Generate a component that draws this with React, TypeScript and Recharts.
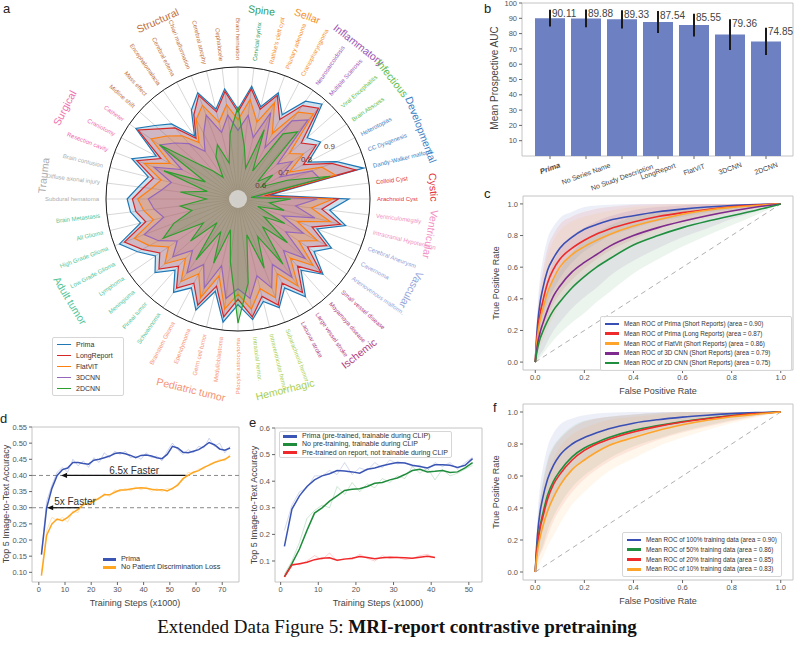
import React from 'react';
import {
  RadarChart,
  Radar,
  PolarGrid,
  PolarAngleAxis,
  PolarRadiusAxis,
  BarChart,
  Bar,
  ErrorBar,
  LabelList,
  XAxis,
  YAxis,
  ComposedChart,
  LineChart,
  Line,
  Area,
  CartesianGrid,
  ReferenceLine,
  ReferenceDot,
} from 'recharts';

const FONT = '"Liberation Sans", Arial, sans-serif';
const TICK = { fontSize: 7.5, fill: '#555', fontFamily: FONT };

// ---------- panel a: per-category AUC radar ----------
const radarCategories = [
  'Brain herniation', 'Cervical syrinx', "Rathke's cleft cyst", 'Pituitary adenoma', 'Craniopharyngioma',
  'Neurosarcoidosis', 'Multiple Sclerosis', 'Viral Encephalitis', 'Brain Abscess', 'Heterotopias',
  'CC Dysgenesis', 'Dandy-Walker malform.', 'Colloid Cyst', 'Arachnoid Cyst', 'Ventriculomegaly',
  'Intracranial Hypotension', 'Cerebral Aneurysm', 'Cavernoma', 'Arteriovenous malform.', 'Small vessel disease',
  'Moyamoya disease', 'Large vessel stroke', 'Lacunar stroke', 'Subarachnoid hemor.', 'Intraventricular hemor.',
  'Intraaxial hemor.', 'Pilocytic astrocytoma', 'Medulloblastoma', 'Germ cell tumor', 'Ependymoma',
  'Brainstem Glioma', 'Schwannoma', 'Pineal tumor', 'Meningioma', 'Lymphoma',
  'Low Grade Glioma', 'High Grade Glioma', 'All Glioma', 'Brain Metastasis', 'Subdural hematoma',
  'Diffuse axonal injury', 'Brain contusion', 'Resection cavity', 'Craniotomy', 'Catheter',
  'Midline shift', 'Mass effect', 'Encephalomalacia', 'Cerebral edema', 'Chiari malformation',
  'Cerebral atrophy', 'Cephalocele',
];

// first/last index of each group (Structural wraps past the top)
const radarGroups = [
  { name: 'Structural', color: '#c0703c', first: 45, last: 52 },
  { name: 'Spine', color: '#2e9b5f', first: 1, last: 1 },
  { name: 'Sellar', color: '#f5902a', first: 2, last: 4 },
  { name: 'Inflammatory', color: '#9a56b4', first: 5, last: 6 },
  { name: 'Infectious', color: '#5ebd48', first: 7, last: 8 },
  { name: 'Developmental', color: '#3d7ec2', first: 9, last: 11 },
  { name: 'Cystic', color: '#e4343c', first: 12, last: 13 },
  { name: 'Ventricular', color: '#f291c4', first: 14, last: 15 },
  { name: 'Vascular', color: '#94a3d9', first: 16, last: 18 },
  { name: 'Ischemic', color: '#b23a7d', first: 19, last: 22 },
  { name: 'Hemorrhagic', color: '#a8cf52', first: 23, last: 25 },
  { name: 'Pediatric tumor', color: '#f59475', first: 26, last: 30 },
  { name: 'Adult tumor', color: '#52c598', first: 31, last: 38 },
  { name: 'Trauma', color: '#adadad', first: 39, last: 41 },
  { name: 'Surgical', color: '#f06eab', first: 42, last: 44 },
];

const radarTicks = [0.6, 0.7, 0.8, 0.9];

const primaAuc = [
  0.84, 0.93, 0.86, 0.93, 0.86, 0.95, 0.98, 0.85, 0.88, 0.80,
  0.90, 0.99, 0.62, 0.92, 0.85, 0.92, 0.82, 0.90, 0.85, 0.93,
  0.86, 0.95, 0.88, 0.94, 0.90, 0.96, 0.90, 0.97, 0.86, 0.95,
  0.88, 0.93, 0.86, 0.92, 0.88, 0.93, 0.98, 0.88, 0.91, 0.92,
  0.88, 0.85, 0.93, 0.85, 0.97, 0.92, 0.88, 0.79, 0.88, 0.93,
  0.85, 0.92,
];
const longReportAuc = [
  0.83, 0.92, 0.85, 0.92, 0.84, 0.93, 0.96, 0.82, 0.86, 0.78,
  0.88, 0.96, 0.60, 0.88, 0.82, 0.90, 0.80, 0.88, 0.82, 0.92,
  0.84, 0.93, 0.86, 0.93, 0.88, 0.95, 0.88, 0.95, 0.84, 0.93,
  0.86, 0.91, 0.84, 0.90, 0.86, 0.91, 0.96, 0.86, 0.89, 0.90,
  0.86, 0.83, 0.91, 0.83, 0.96, 0.90, 0.86, 0.78, 0.86, 0.92,
  0.84, 0.91,
];
const flatVitAuc = [
  0.80, 0.88, 0.80, 0.89, 0.78, 0.90, 0.93, 0.76, 0.80, 0.72,
  0.84, 0.88, 0.58, 0.86, 0.78, 0.86, 0.74, 0.84, 0.78, 0.88,
  0.80, 0.90, 0.82, 0.90, 0.85, 0.92, 0.86, 0.92, 0.80, 0.90,
  0.82, 0.88, 0.80, 0.87, 0.82, 0.88, 0.92, 0.83, 0.86, 0.88,
  0.83, 0.80, 0.88, 0.79, 0.90, 0.86, 0.82, 0.76, 0.84, 0.88,
  0.80, 0.86,
];
const cnn3dAuc = [
  0.76, 0.82, 0.74, 0.85, 0.72, 0.86, 0.90, 0.70, 0.75, 0.68,
  0.80, 0.82, 0.57, 0.80, 0.72, 0.80, 0.68, 0.78, 0.72, 0.84,
  0.76, 0.86, 0.78, 0.86, 0.80, 0.88, 0.84, 0.88, 0.76, 0.86,
  0.78, 0.84, 0.76, 0.83, 0.78, 0.84, 0.88, 0.79, 0.82, 0.84,
  0.79, 0.76, 0.84, 0.74, 0.86, 0.82, 0.78, 0.72, 0.78, 0.84,
  0.76, 0.82,
];
const cnn2dAuc = [
  0.85, 0.70, 0.62, 0.78, 0.62, 0.80, 0.84, 0.60, 0.66, 0.60,
  0.70, 0.86, 0.55, 0.70, 0.62, 0.68, 0.58, 0.70, 0.62, 0.75,
  0.64, 0.80, 0.66, 0.78, 0.64, 0.82, 0.97, 0.74, 0.62, 0.76,
  0.64, 0.78, 0.62, 0.74, 0.66, 0.82, 0.76, 0.68, 0.72, 0.62,
  0.72, 0.62, 0.80, 0.64, 0.86, 0.70, 0.64, 0.60, 0.68, 0.72,
  0.64, 0.75,
];

const radarSeries = [
  { key: 'prima', name: 'Prima', color: '#1f77b4', values: primaAuc },
  { key: 'longReport', name: 'LongReport', color: '#d62728', values: longReportAuc },
  { key: 'flatVit', name: 'FlatViT', color: '#ff7f0e', values: flatVitAuc },
  { key: 'cnn3d', name: '3DCNN', color: '#9467bd', values: cnn3dAuc },
  { key: 'cnn2d', name: '2DCNN', color: '#2ca02c', values: cnn2dAuc },
];

// ---------- panel b: mean prospective AUC ----------
const aucModels = ['Prima', 'No Series Name', 'No Study Description', 'LongReport', 'FlatViT', '3DCNN', '2DCNN'];
const aucValues = [90.11, 89.88, 89.33, 87.54, 85.55, 79.36, 74.85];
const aucErrors = [5.5, 5.8, 6.0, 7.2, 7.5, 10.0, 8.9];

// ---------- panels c, f: mean ROC curves ----------
const rocFpr = [0, 0.005, 0.01, 0.02, 0.03, 0.05, 0.075, 0.1, 0.15, 0.2, 0.25, 0.3, 0.4, 0.5, 0.6, 0.7, 0.8, 0.9, 1.0];

const rocPrimaShort = [0, 0.15, 0.25, 0.38, 0.46, 0.58, 0.66, 0.72, 0.79, 0.84, 0.87, 0.895, 0.925, 0.95, 0.967, 0.98, 0.99, 0.996, 1];
const rocPrimaLong = [0, 0.12, 0.2, 0.31, 0.38, 0.5, 0.59, 0.65, 0.72, 0.77, 0.81, 0.84, 0.885, 0.92, 0.945, 0.965, 0.982, 0.993, 1];
const rocFlatVit = [0, 0.1, 0.17, 0.27, 0.33, 0.44, 0.53, 0.6, 0.68, 0.73, 0.77, 0.805, 0.86, 0.9, 0.935, 0.96, 0.978, 0.99, 1];
const roc3dCnn = [0, 0.07, 0.12, 0.19, 0.24, 0.33, 0.42, 0.48, 0.57, 0.63, 0.68, 0.73, 0.8, 0.85, 0.89, 0.925, 0.955, 0.98, 1];
const roc2dCnn = [0, 0.05, 0.09, 0.15, 0.19, 0.26, 0.33, 0.38, 0.47, 0.54, 0.6, 0.65, 0.74, 0.8, 0.85, 0.89, 0.925, 0.96, 1];

const sdPrimaShort = [0, 0.08, 0.12, 0.16, 0.18, 0.2, 0.2, 0.19, 0.16, 0.14, 0.12, 0.1, 0.08, 0.06, 0.05, 0.035, 0.025, 0.012, 0];
const sdPrimaLong = [0, 0.08, 0.12, 0.17, 0.19, 0.22, 0.22, 0.22, 0.2, 0.18, 0.16, 0.14, 0.11, 0.08, 0.06, 0.045, 0.03, 0.015, 0];
const sdFlatVit = [0, 0.08, 0.12, 0.17, 0.2, 0.23, 0.24, 0.23, 0.21, 0.19, 0.17, 0.15, 0.12, 0.09, 0.07, 0.05, 0.035, 0.018, 0];
const sd3dCnn = [0, 0.06, 0.1, 0.14, 0.17, 0.2, 0.22, 0.23, 0.23, 0.22, 0.21, 0.19, 0.16, 0.13, 0.1, 0.08, 0.05, 0.03, 0];
const sd2dCnn = [0, 0.05, 0.08, 0.12, 0.14, 0.17, 0.19, 0.2, 0.22, 0.23, 0.22, 0.21, 0.18, 0.15, 0.12, 0.09, 0.06, 0.03, 0];

const roc100 = [0, 0.15, 0.25, 0.38, 0.46, 0.58, 0.67, 0.73, 0.8, 0.84, 0.87, 0.895, 0.93, 0.952, 0.968, 0.98, 0.99, 0.996, 1];
const roc50 = [0, 0.12, 0.19, 0.29, 0.36, 0.48, 0.57, 0.63, 0.72, 0.775, 0.81, 0.84, 0.885, 0.915, 0.94, 0.96, 0.978, 0.991, 1];
const roc20 = [0, 0.11, 0.18, 0.28, 0.34, 0.455, 0.55, 0.61, 0.7, 0.76, 0.8, 0.83, 0.875, 0.91, 0.937, 0.958, 0.977, 0.99, 1];
const roc10 = [0, 0.08, 0.14, 0.22, 0.28, 0.38, 0.47, 0.54, 0.64, 0.7, 0.75, 0.79, 0.84, 0.885, 0.92, 0.948, 0.97, 0.986, 1];

const sd100 = [0, 0.08, 0.12, 0.16, 0.18, 0.2, 0.2, 0.19, 0.16, 0.14, 0.12, 0.1, 0.08, 0.06, 0.05, 0.035, 0.025, 0.012, 0];
const sd50 = [0, 0.08, 0.12, 0.17, 0.2, 0.22, 0.22, 0.21, 0.19, 0.17, 0.15, 0.13, 0.1, 0.08, 0.06, 0.045, 0.03, 0.015, 0];
const sd20 = [0, 0.08, 0.12, 0.17, 0.2, 0.23, 0.23, 0.22, 0.2, 0.18, 0.16, 0.14, 0.11, 0.085, 0.065, 0.05, 0.035, 0.017, 0];
const sd10 = [0, 0.07, 0.11, 0.16, 0.19, 0.22, 0.24, 0.24, 0.22, 0.2, 0.18, 0.16, 0.13, 0.1, 0.08, 0.06, 0.04, 0.02, 0];

const rocShortSeries = [
  { key: 'primaShort', name: 'Mean ROC of Prima (Short Reports) (area = 0.90)', color: '#3a4fb5', mean: rocPrimaShort, sd: sdPrimaShort },
  { key: 'primaLong', name: 'Mean ROC of Prima (Long Reports) (area = 0.87)', color: '#ee2a2a', mean: rocPrimaLong, sd: sdPrimaLong },
  { key: 'flatVit', name: 'Mean ROC of FlatVit (Short Reports) (area = 0.86)', color: '#ffa42b', mean: rocFlatVit, sd: sdFlatVit },
  { key: 'cnn3d', name: 'Mean ROC of 3D CNN (Short Reports) (area = 0.79)', color: '#7e2a8e', mean: roc3dCnn, sd: sd3dCnn },
  { key: 'cnn2d', name: 'Mean ROC of 2D CNN (Short Reports) (area = 0.75)', color: '#1f8f3f', mean: roc2dCnn, sd: sd2dCnn },
];
const rocDataSeries = [
  { key: 'p100', name: 'Mean ROC of 100% training data (area = 0.90)', color: '#3a4fb5', mean: roc100, sd: sd100 },
  { key: 'p50', name: 'Mean ROC of 50% training data (area = 0.86)', color: '#1f8f3f', mean: roc50, sd: sd50 },
  { key: 'p20', name: 'Mean ROC of 20% training data (area = 0.85)', color: '#ee2a2a', mean: roc20, sd: sd20 },
  { key: 'p10', name: 'Mean ROC of 10% training data (area = 0.83)', color: '#ffa42b', mean: roc10, sd: sd10 },
];

// ---------- panel d: patient discrimination loss ----------
const dSteps = [1, 3, 5, 7, 9, 11, 13, 15, 17, 19, 21, 23, 25, 27, 29, 31, 33, 35, 37, 39, 41, 43, 45, 47, 49, 51, 53, 55, 57, 59, 61, 63, 65, 67, 69, 71, 73];
const dPrima = [0.155, 0.30, 0.36, 0.40, 0.418, 0.423, 0.44, 0.44, 0.437, 0.435, 0.447, 0.45, 0.455, 0.46, 0.468, 0.47, 0.467, 0.462, 0.455, 0.462, 0.463, 0.46, 0.455, 0.452, 0.465, 0.49, 0.485, 0.472, 0.47, 0.475, 0.48, 0.49, 0.502, 0.495, 0.482, 0.478, 0.485];
const dPrimaRaw = [0.16, 0.32, 0.37, 0.41, 0.425, 0.41, 0.45, 0.43, 0.445, 0.425, 0.455, 0.44, 0.47, 0.455, 0.475, 0.465, 0.475, 0.455, 0.46, 0.45, 0.47, 0.455, 0.46, 0.445, 0.475, 0.5, 0.48, 0.465, 0.48, 0.47, 0.49, 0.485, 0.515, 0.49, 0.5, 0.47, 0.49];
const dNoDisc = [0.09, 0.215, 0.25, 0.265, 0.26, 0.27, 0.285, 0.295, 0.31, 0.312, 0.32, 0.33, 0.34, 0.34, 0.348, 0.355, 0.355, 0.358, 0.36, 0.362, 0.36, 0.357, 0.355, 0.356, 0.352, 0.36, 0.37, 0.39, 0.40, 0.41, 0.415, 0.425, 0.432, 0.44, 0.445, 0.45, 0.46];
const dNoDiscRaw = [0.1, 0.23, 0.27, 0.26, 0.27, 0.255, 0.29, 0.285, 0.32, 0.305, 0.33, 0.325, 0.345, 0.335, 0.355, 0.35, 0.36, 0.352, 0.365, 0.355, 0.365, 0.35, 0.36, 0.35, 0.36, 0.355, 0.375, 0.385, 0.41, 0.405, 0.42, 0.42, 0.435, 0.44, 0.45, 0.445, 0.465];

// ---------- panel e: pre-training ablation ----------
const eSteps = [1, 3, 5, 7, 9, 11, 13, 15, 17, 19, 21, 23, 25, 27, 29, 31, 33, 35, 37, 39, 41, 43, 45, 47, 49, 51];
const ePrima = [0.155, 0.295, 0.345, 0.38, 0.405, 0.42, 0.428, 0.44, 0.438, 0.435, 0.43, 0.445, 0.45, 0.458, 0.465, 0.47, 0.468, 0.46, 0.455, 0.45, 0.462, 0.462, 0.46, 0.452, 0.46, 0.485];
const ePrimaRaw = [0.215, 0.31, 0.36, 0.375, 0.42, 0.42, 0.44, 0.425, 0.47, 0.425, 0.45, 0.44, 0.47, 0.45, 0.48, 0.465, 0.47, 0.455, 0.46, 0.44, 0.47, 0.455, 0.47, 0.445, 0.47, 0.49];
const eScratch = [0.04, 0.09, 0.145, 0.215, 0.28, 0.3, 0.325, 0.345, 0.365, 0.37, 0.372, 0.38, 0.392, 0.395, 0.405, 0.412, 0.425, 0.44, 0.445, 0.435, 0.437, 0.44, 0.433, 0.435, 0.45, 0.47];
const eScratchRaw = [0.05, 0.1, 0.17, 0.26, 0.29, 0.31, 0.3, 0.38, 0.35, 0.395, 0.36, 0.39, 0.375, 0.41, 0.395, 0.42, 0.41, 0.455, 0.43, 0.45, 0.405, 0.445, 0.42, 0.43, 0.445, 0.46];
const eFrozen = [0.04, 0.085, 0.09, 0.095, 0.105, 0.11, 0.112, 0.103, 0.107, 0.11, 0.117, 0.113, 0.108, 0.112, 0.114, 0.113, 0.112, 0.11, 0.114, 0.118, 0.113, null, null, null, null, null];
const eFrozenRaw = [0.045, 0.09, 0.085, 0.1, 0.12, 0.105, 0.13, 0.1, 0.11, 0.105, 0.125, 0.11, 0.1, 0.12, 0.11, 0.115, 0.105, 0.11, 0.12, 0.125, 0.112, null, null, null, null, null];

// ---------- shared bits ----------
const frame = () => (
  <CartesianGrid
    stroke="#c4c4c4"
    horizontalCoordinatesGenerator={({ offset }: any) => [offset.top, offset.top + offset.height]}
    verticalCoordinatesGenerator={({ offset }: any) => [offset.left, offset.left + offset.width]}
  />
);

const LegendBox = ({ items, style, fontSize, lineW, gap, lineH = 2.5, border = true }: any) => (
  <div
    style={{
      position: 'absolute',
      background: 'rgba(255,255,255,0.85)',
      border: border ? '1px solid #d6d6d6' : 'none',
      borderRadius: 2,
      padding: '2px 4px',
      fontFamily: FONT,
      fontSize,
      color: '#333',
      lineHeight: `${gap}px`,
      whiteSpace: 'nowrap',
      ...style,
    }}
  >
    {items.map((it: any) => (
      <div key={it.name} style={{ display: 'flex', alignItems: 'center', height: gap }}>
        <span style={{ display: 'inline-block', width: lineW, height: lineH, background: it.color, marginRight: 5 }} />
        <span>{it.name}</span>
      </div>
    ))}
  </div>
);

// ---------- panel a ----------
const RADAR_CX = 238;
const RADAR_CY = 199;
const RADAR_R = 132;
const RADAR_MIN = 0.5;
const LABEL_R = 139;
const GROUP_R = 196;
const nCat = radarCategories.length;

function catColor(i: number) {
  const g = radarGroups.find((g) => (i >= g.first && i <= g.last) || (i + nCat >= g.first && i + nCat <= g.last));
  return g ? g.color : '#888';
}

const radarData = radarCategories.map((cat, i) => {
  const row: any = { cat };
  radarSeries.forEach((s) => { row[s.key] = s.values[i]; });
  return row;
});

const RadarTick = (props: any) => {
  const name = props.payload?.value;
  const i = radarCategories.indexOf(name);
  const theta = (i * 360) / nCat;
  const rad = (theta * Math.PI) / 180;
  const x = RADAR_CX + LABEL_R * Math.sin(rad);
  const y = RADAR_CY - LABEL_R * Math.cos(rad);
  const right = theta > 0 && theta < 180;
  const rot = right ? theta - 90 : theta + 90;
  return (
    <text
      x={x}
      y={y}
      transform={`rotate(${rot} ${x} ${y})`}
      textAnchor={right ? 'start' : 'end'}
      dominantBaseline="central"
      fontSize={6}
      fontFamily={FONT}
      fill={catColor(i)}
    >
      {name}
    </text>
  );
};

function RadarPanel() {
  const tickAngle = (30 * Math.PI) / 180;
  return (
    <div style={{ position: 'absolute', left: 0, top: 0, width: 476, height: 410 }}>
      <RadarChart
        width={476}
        height={410}
        data={radarData}
        cx={RADAR_CX}
        cy={RADAR_CY}
        outerRadius={RADAR_R}
        startAngle={90}
        endAngle={-270}
        margin={{ top: 0, right: 0, bottom: 0, left: 0 }}
      >
        <PolarGrid gridType="circle" stroke="#cdcdcd" strokeWidth={0.8} />
        <PolarAngleAxis dataKey="cat" tick={(p: any) => <RadarTick {...p} />} tickLine={false} axisLine={false} />
        <PolarRadiusAxis angle={30} domain={[RADAR_MIN, 1]} tickCount={6} axisLine={false} tick={false} />
        {radarSeries.map((s) => (
          <Radar
            key={s.key}
            dataKey={s.key}
            name={s.name}
            stroke={s.color}
            fill={s.color}
            fillOpacity={0.22}
            strokeWidth={1.2}
            dot={false}
            isAnimationActive={false}
          />
        ))}
        <PolarGrid gridType="circle" radialLines={false} polarRadius={[RADAR_R]} stroke="#222" strokeWidth={1} />
      </RadarChart>
      <svg width={476} height={410} style={{ position: 'absolute', left: 0, top: 0, pointerEvents: 'none' }}>
        <circle cx={RADAR_CX} cy={RADAR_CY} r={9} fill="#e4e4e4" fillOpacity={0.75} />
        {radarTicks.map((v) => {
          const r = ((v - RADAR_MIN) / (1 - RADAR_MIN)) * RADAR_R;
          return (
            <text
              key={v}
              x={RADAR_CX + r * Math.cos(tickAngle)}
              y={RADAR_CY - r * Math.sin(tickAngle)}
              fontSize={8}
              fontFamily={FONT}
              fill="#6a3434"
              textAnchor="middle"
              dominantBaseline="central"
            >
              {v.toFixed(1)}
            </text>
          );
        })}
        {radarGroups.map((g) => {
          const mid = (g.first + g.last) / 2;
          const theta = (mid * 360) / nCat;
          const rad = (theta * Math.PI) / 180;
          const x = RADAR_CX + GROUP_R * Math.sin(rad);
          const y = Math.max(10, RADAR_CY - GROUP_R * Math.cos(rad));
          const rot = theta <= 125 ? theta : theta < 270 ? theta - 180 : theta - 360;
          return (
            <text
              key={g.name}
              x={x}
              y={y}
              transform={`rotate(${rot} ${x} ${y})`}
              textAnchor="middle"
              dominantBaseline="central"
              fontSize={10.5}
              fontFamily={FONT}
              fill={g.color}
            >
              {g.name}
            </text>
          );
        })}
      </svg>
      <LegendBox
        items={radarSeries}
        fontSize={7}
        lineW={14}
        lineH={1.5}
        gap={11}
        style={{ left: 52, top: 337, width: 62, padding: '1px 4px' }}
      />
    </div>
  );
}

// ---------- panel b ----------
const aucData = aucModels.map((model, i) => ({ model, auc: aucValues[i], err: aucErrors[i] }));

const AucTick = (p: any) => {
  const { x, y, payload } = p;
  const label = payload.value;
  const fs = 7;
  const w = label.length * fs * 0.5;
  const a = (20 * Math.PI) / 180;
  const cy = y + 1 + (w * Math.sin(a) + fs * Math.cos(a)) / 2;
  const isPrima = label === 'Prima';
  return (
    <text
      x={x}
      y={cy}
      transform={`rotate(-20 ${x} ${cy})`}
      textAnchor="middle"
      dominantBaseline="central"
      fontSize={isPrima ? 7.5 : fs}
      fontWeight={isPrima ? 'bold' : 'normal'}
      fontStyle={isPrima ? 'italic' : 'normal'}
      fontFamily={FONT}
      fill="#444"
    >
      {label}
    </text>
  );
};

const AucLabel = (p: any) => {
  const { x, y, width, height, value } = p;
  const i = aucValues.indexOf(value);
  const err = aucErrors[i] ?? 0;
  const top = y - (err * height) / value;
  return (
    <text x={x + width / 2 + 2} y={top + 7.5} fontSize={10} fontFamily={FONT} fill="#444">
      {Number(value).toFixed(2)}
    </text>
  );
};

function AucPanel() {
  return (
    <div style={{ position: 'absolute', left: 492, top: -2, width: 302, height: 198 }}>
      <BarChart width={302} height={198} data={aucData} margin={{ top: 5, right: 1, bottom: 0, left: 0 }} barCategoryGap={3}>
        {frame()}
        <XAxis
          dataKey="model"
          interval={0}
          height={40}
          tickSize={3}
          axisLine={false}
          padding={{ left: 10, right: 9 }}
          tick={(p: any) => <AucTick {...p} />}
        />
        <YAxis
          domain={[0, 100]}
          ticks={[10, 20, 30, 40, 50, 60, 70, 80, 90, 100]}
          width={30}
          tickSize={3}
          axisLine={false}
          tick={TICK}
        />
        <Bar dataKey="auc" fill="#6d80c2" barSize={30} isAnimationActive={false}>
          <ErrorBar dataKey="err" width={0} strokeWidth={2} stroke="#1a1a1a" />
          <LabelList dataKey="auc" content={(p: any) => <AucLabel {...p} />} />
        </Bar>
      </BarChart>
    </div>
  );
}

// ---------- panels c, f ----------
function RocPanel({ left, top, height, series, legendStyle }: any) {
  const data = rocFpr.map((fpr, i) => {
    const row: any = { fpr };
    series.forEach((s: any) => {
      row[s.key] = s.mean[i];
      row[s.key + 'Band'] = [Math.max(0, s.mean[i] - s.sd[i]), Math.min(1, s.mean[i] + s.sd[i])];
    });
    return row;
  });
  return (
    <div style={{ position: 'absolute', left, top, width: 297, height }}>
      <ComposedChart width={297} height={height} data={data} margin={{ top: 4, right: 1, bottom: 0, left: 0 }}>
        {frame()}
        <XAxis
          dataKey="fpr"
          type="number"
          domain={[-0.05, 1.05]}
          ticks={[0, 0.2, 0.4, 0.6, 0.8, 1]}
          tickFormatter={(v: number) => v.toFixed(1)}
          height={16}
          tickSize={3}
          axisLine={false}
          allowDataOverflow
          tick={TICK}
        />
        <YAxis
          type="number"
          domain={[-0.05, 1.05]}
          ticks={[0, 0.2, 0.4, 0.6, 0.8, 1]}
          tickFormatter={(v: number) => v.toFixed(1)}
          width={26}
          tickSize={3}
          axisLine={false}
          allowDataOverflow
          tick={TICK}
        />
        <ReferenceLine segment={[{ x: 0, y: 0 }, { x: 1, y: 1 }]} stroke="#b0b0b0" strokeDasharray="5 4" />
        {series.map((s: any) => (
          <Area
            key={s.key + 'Band'}
            dataKey={s.key + 'Band'}
            type="monotone"
            stroke="none"
            fill={s.color}
            fillOpacity={0.09}
            isAnimationActive={false}
          />
        ))}
        {series.map((s: any) => (
          <Line
            key={s.key}
            dataKey={s.key}
            type="monotone"
            stroke={s.color}
            strokeWidth={1.6}
            dot={false}
            isAnimationActive={false}
          />
        ))}
      </ComposedChart>
      <LegendBox items={series} fontSize={6.3} lineW={14} lineH={2.5} gap={9.8} style={legendStyle} />
    </div>
  );
}

// ---------- panels d, e ----------
const ArrowShape = (p: any) => {
  const { x1, y1, x2, y2 } = p;
  const dir = x2 < x1 ? 1 : -1;
  return (
    <g>
      <line x1={x1} y1={y1} x2={x2 + dir * 5} y2={y2} stroke="#111" strokeWidth={1.2} />
      <path d={`M${x2},${y2} L${x2 + dir * 6},${y2 - 2.6} L${x2 + dir * 6},${y2 + 2.6} Z`} fill="#111" />
    </g>
  );
};

const dData = dSteps.map((step, i) => ({
  step,
  prima: dPrima[i],
  primaRaw: dPrimaRaw[i],
  noDisc: dNoDisc[i],
  noDiscRaw: dNoDiscRaw[i],
}));

function PatientLossPanel() {
  return (
    <div style={{ position: 'absolute', left: 2, top: 422, width: 239, height: 176 }}>
      <LineChart width={239} height={176} data={dData} margin={{ top: 5, right: 2, bottom: 0, left: 0 }}>
        {frame()}
        <XAxis
          dataKey="step"
          type="number"
          domain={[-2.6, 76.4]}
          ticks={[0, 10, 20, 30, 40, 50, 60, 70]}
          height={16}
          tickSize={3}
          axisLine={false}
          allowDataOverflow
          tick={TICK}
        />
        <YAxis
          type="number"
          domain={[0.07, 0.55]}
          ticks={[0.1, 0.15, 0.2, 0.25, 0.3, 0.35, 0.4, 0.45, 0.5, 0.55]}
          tickFormatter={(v: number) => v.toFixed(2)}
          width={30}
          tickSize={3}
          axisLine={false}
          allowDataOverflow
          tick={TICK}
        />
        <ReferenceLine y={0.4} stroke="#8a8a8a" strokeDasharray="4 3" />
        <ReferenceLine y={0.3} stroke="#8a8a8a" strokeDasharray="4 3" />
        <Line dataKey="primaRaw" stroke="#3a55b4" strokeOpacity={0.25} strokeWidth={1} dot={false} isAnimationActive={false} />
        <Line dataKey="noDiscRaw" stroke="#ffa51f" strokeOpacity={0.3} strokeWidth={1} dot={false} isAnimationActive={false} />
        <Line dataKey="prima" stroke="#3a55b4" strokeWidth={1.5} dot={false} isAnimationActive={false} />
        <Line dataKey="noDisc" stroke="#ffa51f" strokeWidth={1.5} dot={false} isAnimationActive={false} />
        <ReferenceLine segment={[{ x: 56, y: 0.4 }, { x: 8.5, y: 0.4 }]} shape={(p: any) => <ArrowShape {...p} />} />
        <ReferenceLine segment={[{ x: 15.5, y: 0.3 }, { x: 3.2, y: 0.3 }]} shape={(p: any) => <ArrowShape {...p} />} />
        <ReferenceDot x={36.4} y={0.415} r={0} fill="none" stroke="none" label={{ value: '6.5x Faster', position: 'center', fontSize: 10, fill: '#333', fontFamily: FONT }} />
        <ReferenceDot x={13.8} y={0.318} r={0} fill="none" stroke="none" label={{ value: '5x Faster', position: 'center', fontSize: 10, fill: '#333', fontFamily: FONT }} />
      </LineChart>
      <LegendBox
        items={[
          { name: 'Prima', color: '#3a55b4' },
          { name: 'No Patient Discrimination Loss', color: '#ffa51f' },
        ]}
        fontSize={7.3}
        lineW={13}
        lineH={3}
        gap={8}
        border={false}
        style={{ left: 98, top: 132, padding: '1px 3px', background: 'transparent' }}
      />
    </div>
  );
}

const eData = eSteps.map((step, i) => ({
  step,
  prima: ePrima[i],
  primaRaw: ePrimaRaw[i],
  scratch: eScratch[i],
  scratchRaw: eScratchRaw[i],
  frozen: eFrozen[i],
  frozenRaw: eFrozenRaw[i],
}));

function PretrainPanel() {
  return (
    <div style={{ position: 'absolute', left: 251, top: 424, width: 233, height: 174 }}>
      <LineChart width={233} height={174} data={eData} margin={{ top: 4, right: 2, bottom: 0, left: 0 }}>
        {frame()}
        <XAxis
          dataKey="step"
          type="number"
          domain={[-1.5, 53.5]}
          ticks={[0, 10, 20, 30, 40, 50]}
          height={16}
          tickSize={3}
          axisLine={false}
          allowDataOverflow
          tick={TICK}
        />
        <YAxis
          type="number"
          domain={[0.021, 0.6]}
          ticks={[0.1, 0.2, 0.3, 0.4, 0.5, 0.6]}
          tickFormatter={(v: number) => v.toFixed(1)}
          width={24}
          tickSize={3}
          axisLine={false}
          allowDataOverflow
          tick={TICK}
        />
        <Line dataKey="primaRaw" stroke="#3a55b4" strokeOpacity={0.22} strokeWidth={1} dot={false} isAnimationActive={false} />
        <Line dataKey="scratchRaw" stroke="#1e8c3a" strokeOpacity={0.22} strokeWidth={1} dot={false} isAnimationActive={false} />
        <Line dataKey="frozenRaw" stroke="#f0282a" strokeOpacity={0.22} strokeWidth={1} dot={false} isAnimationActive={false} />
        <Line dataKey="prima" stroke="#3a55b4" strokeWidth={1.5} dot={false} isAnimationActive={false} />
        <Line dataKey="scratch" stroke="#1e8c3a" strokeWidth={1.5} dot={false} isAnimationActive={false} />
        <Line dataKey="frozen" stroke="#f0282a" strokeWidth={1.5} dot={false} isAnimationActive={false} />
      </LineChart>
      <LegendBox
        items={[
          { name: 'Prima (pre-trained, trainable during CLIP)', color: '#3a55b4' },
          { name: 'No pre-training, trainable during CLIP', color: '#1e8c3a' },
          { name: 'Pre-trained on report, not trainable during CLIP', color: '#f0282a' },
        ]}
        fontSize={7}
        lineW={14}
        lineH={3}
        gap={8.3}
        style={{ left: 28, top: 7, padding: '0px 3px' }}
      />
    </div>
  );
}

export default function App() {
  const title = { fontSize: 9, fill: '#444', fontFamily: FONT };
  const letter = { fontSize: 13, fill: '#222', fontFamily: FONT };
  return (
    <div style={{ position: 'absolute', left: 0, top: 0, width: 794, height: 655, overflow: 'hidden', background: '#fff', fontFamily: FONT }}>
      <RadarPanel />
      <AucPanel />
      <RocPanel
        left={497}
        top={192}
        height={194}
        series={rocShortSeries}
        legendStyle={{ left: 103, top: 124, width: 182 }}
      />
      <RocPanel
        left={497}
        top={400}
        height={196}
        series={rocDataSeries}
        legendStyle={{ left: 125, top: 132, width: 150 }}
      />
      <PatientLossPanel />
      <PretrainPanel />
      <svg width={794} height={655} style={{ position: 'absolute', left: 0, top: 0, pointerEvents: 'none' }}>
        <text x={3} y={13} {...letter}>a</text>
        <text x={484} y={13} {...letter}>b</text>
        <text x={484} y={198} {...letter}>c</text>
        <text x={0} y={423} {...letter}>d</text>
        <text x={249} y={427} {...letter}>e</text>
        <text x={493} y={412} {...letter}>f</text>
        <text transform="translate(498 78) rotate(-90)" textAnchor="middle" {...title} fontSize={10}>Mean Prospective AUC</text>
        <text transform="translate(499 283) rotate(-90)" textAnchor="middle" {...title}>True Positive Rate</text>
        <text x={658} y={394} textAnchor="middle" {...title}>False Positive Rate</text>
        <text transform="translate(499 492) rotate(-90)" textAnchor="middle" {...title}>True Positive Rate</text>
        <text x={658} y={604} textAnchor="middle" {...title}>False Positive Rate</text>
        <text transform="translate(9 504) rotate(-90)" textAnchor="middle" {...title}>Top 5 Image-to-Text Accuracy</text>
        <text x={135} y={606} textAnchor="middle" {...title}>Training Steps (x1000)</text>
        <text transform="translate(257 505) rotate(-90)" textAnchor="middle" {...title}>Top 5 Image-to-Text Accuracy</text>
        <text x={378} y={606} textAnchor="middle" {...title}>Training Steps (x1000)</text>
      </svg>
      <div
        style={{
          position: 'absolute',
          left: 0,
          top: 616,
          width: 794,
          textAlign: 'center',
          fontFamily: '"Liberation Serif", "DejaVu Serif", serif',
          fontSize: 19,
          color: '#111',
        }}
      >
        Extended Data Figure 5: <b>MRI-report contrastive pretraining</b>
      </div>
    </div>
  );
}
